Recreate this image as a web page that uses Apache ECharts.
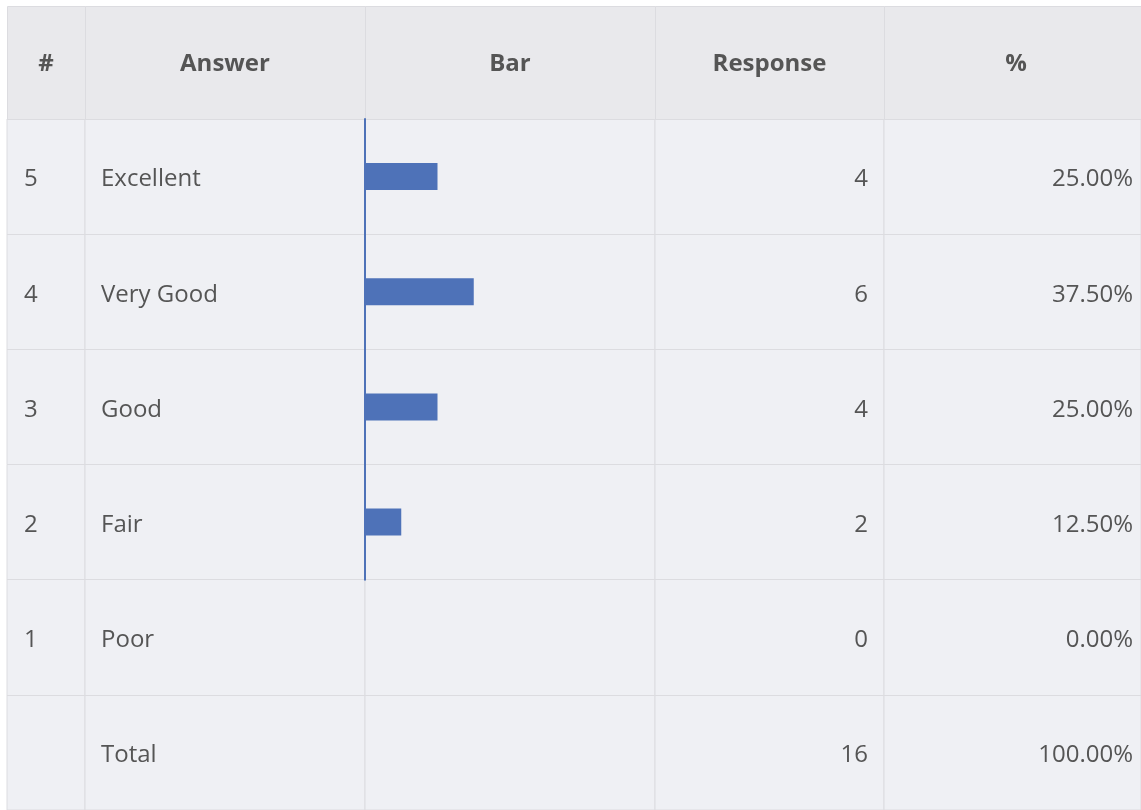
<!DOCTYPE html>
<html>
<head>
<meta charset="utf-8">
<script src="https://cdn.jsdelivr.net/npm/echarts@6/dist/echarts.min.js"></script>
<style>
  html, body { margin: 0; padding: 0; background: #fff; }
  #chart { width: 1141px; height: 810px; }
</style>
</head>
<body>
<div id="chart"></div>
<script>
// table data
var ranks = ['5', '4', '3', '2', '1']
var answers = ['Excellent', 'Very Good', 'Good', 'Fair', 'Poor']
var responses = [4, 6, 4, 2, 0]
var percents = [25, 37.5, 25, 12.5, 0]
var totalLabel = 'Total'
var totalResponse = 16
var totalPercent = 100
var headers = ['#', 'Answer', 'Bar', 'Response', '%']

// layout (px)
var colEdges = [7, 85, 365, 655, 884, 1148]
var canvasW = 1141
var tableTop = 6
var headTop = 119
var tableBottom = 810
var rowCount = answers.length + 1
var rowH = (tableBottom - headTop) / rowCount
var lineColor = '#dcdce0'
var textColor = '#555555'
var barColor = '#4e72b8'

// rows up to the last answer that got a response carry the bar axis line
var lastFilled = 0
responses.forEach(function (v, i) { if (v > 0) lastFilled = i + 1 })

var chart = echarts.init(document.getElementById('chart'))

function colGrid(i, extra) {
  return Object.assign({
    left: colEdges[i],
    top: headTop,
    width: Math.min(colEdges[i + 1], canvasW + 2) - colEdges[i],
    height: tableBottom - headTop,
    show: true,
    backgroundColor: '#eff0f4',
    borderColor: lineColor,
    borderWidth: 1
  }, extra || {})
}

function textAxis(gridIndex, labels, position, margin) {
  return {
    type: 'category',
    gridIndex: gridIndex,
    inverse: true,
    position: position,
    data: labels,
    axisLine: { show: false },
    axisTick: { show: false },
    splitLine: { show: true, interval: 0, lineStyle: { color: lineColor, width: 1 } },
    axisLabel: {
      inside: true,
      interval: 0,
      margin: margin,
      color: textColor,
      formatter: function (v) { return v === '' ? '' : '{v|' + v + '}' },
      rich: {
        v: { fontSize: 24, color: textColor, padding: [6, 0, 0, 0] }
      }
    }
  }
}

function hiddenX(gridIndex) {
  return { type: 'value', gridIndex: gridIndex, show: false, min: 0, max: 1 }
}

var rankLabels = ranks.concat([''])
var answerLabels = answers.concat([totalLabel])
var responseLabels = responses.concat([totalResponse]).map(String)
var percentLabels = percents.concat([totalPercent]).map(function (p) { return p.toFixed(2) + '%' })

var headerGraphics = headers.map(function (h, i) {
  var x0 = colEdges[i], x1 = colEdges[i + 1]
  return {
    type: 'group',
    children: [
      {
        type: 'rect',
        shape: { x: x0 + 0.5, y: tableTop + 0.5, width: x1 - x0, height: headTop - tableTop },
        style: { fill: '#e9e9ec', stroke: lineColor, lineWidth: 1 }
      },
      {
        type: 'text',
        x: (x0 + x1) / 2,
        y: (tableTop + headTop) / 2 + 2,
        style: {
          text: h,
          fill: textColor,
          font: 'bold 24px "Open Sans", sans-serif',
          align: 'center',
          verticalAlign: 'middle'
        }
      }
    ]
  }
})

chart.setOption({
  backgroundColor: '#ffffff',
  animation: false,
  textStyle: { fontFamily: '"Open Sans", sans-serif' },
  graphic: headerGraphics,
  grid: [
    colGrid(0),
    colGrid(1),
    colGrid(2),
    colGrid(3),
    colGrid(4),
    // bar axis line only over rows that have responses
    {
      left: colEdges[2],
      top: headTop,
      width: colEdges[3] - colEdges[2],
      height: rowH * lastFilled,
      show: false
    }
  ],
  xAxis: [
    hiddenX(0),
    hiddenX(1),
    { type: 'value', gridIndex: 2, show: false, min: 0, max: totalResponse },
    hiddenX(3),
    hiddenX(4),
    hiddenX(5)
  ],
  yAxis: [
    textAxis(0, rankLabels, 'left', 17),
    textAxis(1, answerLabels, 'left', 16),
    {
      type: 'category',
      gridIndex: 2,
      inverse: true,
      data: answerLabels,
      axisLine: { show: false },
      axisTick: { show: false },
      axisLabel: { show: false },
      splitLine: { show: true, interval: 0, lineStyle: { color: lineColor, width: 1 } }
    },
    textAxis(3, responseLabels, 'right', 16),
    textAxis(4, percentLabels, 'right', 8),
    {
      type: 'category',
      gridIndex: 5,
      inverse: true,
      data: answerLabels.slice(0, lastFilled),
      axisLine: { show: true, lineStyle: { color: barColor, width: 2 } },
      axisTick: { show: false },
      axisLabel: { show: false },
      splitLine: { show: false }
    }
  ],
  series: [
    {
      type: 'bar',
      xAxisIndex: 2,
      yAxisIndex: 2,
      barWidth: 27,
      itemStyle: { color: barColor },
      data: responses.concat([null])
    }
  ]
})
</script>
</body>
</html>
